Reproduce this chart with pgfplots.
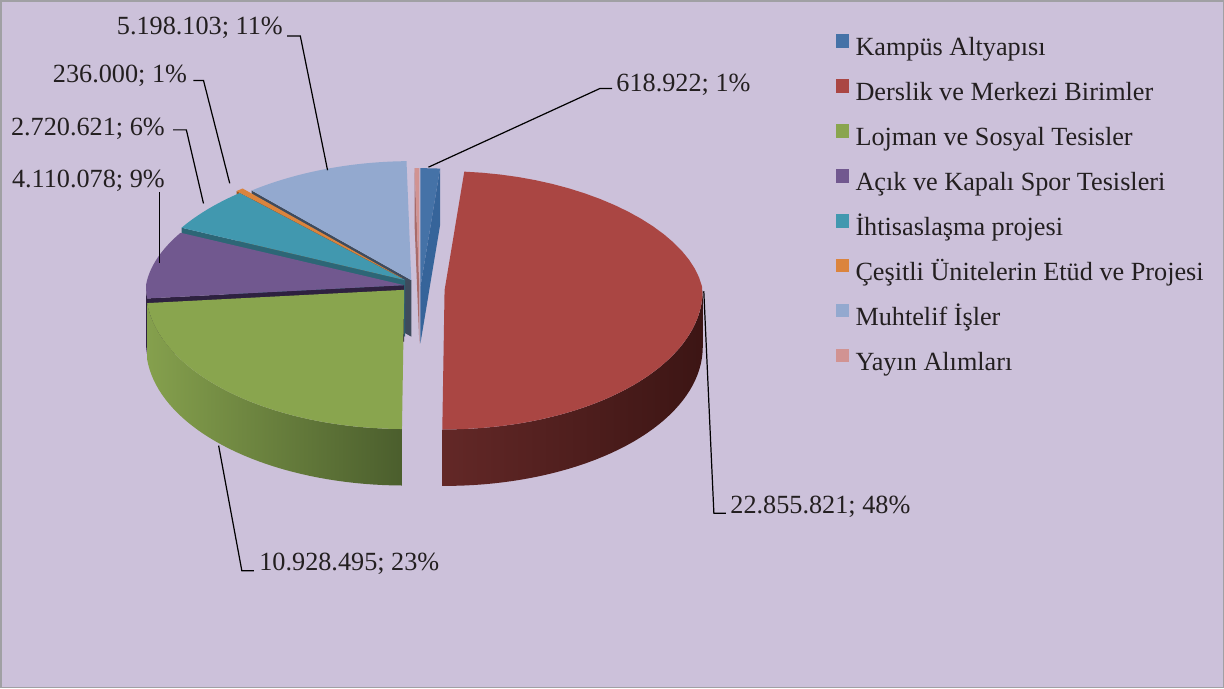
\documentclass[border=0pt]{standalone}
\usepackage{pgfplots}
\pgfplotsset{compat=1.18}
\usepackage{xfp}
\usepackage{fontspec}
\setmainfont{Liberation Serif}

\definecolor{bg}{HTML}{CCC1DA}
\definecolor{bordergray}{HTML}{A0A0A4}
\definecolor{kampus}{HTML}{4572A7}
\definecolor{kampusD}{HTML}{36649A}
\definecolor{derslik}{HTML}{AA4643}
\definecolor{dersL}{HTML}{632827}
\definecolor{dersR}{HTML}{3C1514}
\definecolor{lojman}{HTML}{89A54E}
\definecolor{lojL}{HTML}{85A04D}
\definecolor{lojR}{HTML}{4B5E2D}
\definecolor{acik}{HTML}{71588F}
\definecolor{acikD}{HTML}{2E2140}
\definecolor{iht}{HTML}{4198AF}
\definecolor{ihtD}{HTML}{2D6676}
\definecolor{ces}{HTML}{DB843D}
\definecolor{cesD}{HTML}{A3571C}
\definecolor{muh}{HTML}{93A9CF}
\definecolor{muhD}{HTML}{3E4B5D}
\definecolor{yayin}{HTML}{D19392}
\definecolor{yayinD}{HTML}{A86B6A}
\definecolor{txt}{HTML}{231F20}

% data
\def\vKampus{618922}
\def\vDerslik{22855821}
\def\vLojman{10928495}
\def\vAcik{4110078}
\def\vIht{2720621}
\def\vCes{236000}
\def\vMuh{5198103}
\def\vYayin{150000}

\edef\T{\fpeval{\vKampus+\vDerslik+\vLojman+\vAcik+\vIht+\vCes+\vMuh+\vYayin}}
\edef\cA{\fpeval{round(360*(\vKampus)/\T,3)}}
\edef\cB{\fpeval{round(360*(\vKampus+\vDerslik)/\T,3)}}
\edef\cC{\fpeval{round(360*(\vKampus+\vDerslik+\vLojman)/\T,3)}}
\edef\cD{\fpeval{round(360*(\vKampus+\vDerslik+\vLojman+\vAcik)/\T,3)}}
\edef\cE{\fpeval{round(360*(\vKampus+\vDerslik+\vLojman+\vAcik+\vIht)/\T,3)}}
\edef\cF{\fpeval{round(360*(\vKampus+\vDerslik+\vLojman+\vAcik+\vIht+\vCes)/\T,3)}}
\edef\cG{\fpeval{round(360*(\vKampus+\vDerslik+\vLojman+\vAcik+\vIht+\vCes+\vMuh)/\T,3)}}

% top face: #1 start, #2 end, #3 dx, #4 dy (screen down), #5 colour
\newcommand\topface[5]{%
  \edef\tmp{\noexpand\addplot[forget plot, fill=#5, draw=none, domain=0:1.1, samples=45]
  ({ifthenelse(x<1.0125, \fpeval{410+(#3)}+256*sin(#1+(#2-#1)*x)*(1-0.08*max(cos(#1+(#2-#1)*x),0)), \fpeval{410+(#3)})},
   {ifthenelse(x<1.0125, \fpeval{399-(#4)}+cos(#1+(#2-#1)*x)*ifthenelse(cos(#1+(#2-#1)*x)>0,118,138), \fpeval{399-(#4)})});}%
  \tmp}
% outer wall (front only): #1 a, #2 b, #3 dx, #4 dy, #5 left colour, #6 right colour
\newcommand\sideface[6]{%
  \edef\tmp{\noexpand\addplot[forget plot, left color=#5, right color=#6, draw=none, domain=0:2.025, samples=82]
  ({\fpeval{410+(#3)}+256*sin(#1+(#2-#1)*ifthenelse(x<1.0125,x,2.025-x))},
   {\fpeval{399-(#4)}-ifthenelse(x<1.0125,0,56)+138*cos(#1+(#2-#1)*ifthenelse(x<1.0125,x,2.025-x))});}%
  \tmp}
% radial wall: #1 angle, #2 dx, #3 dy, #4 colour
\newcommand\radwall[4]{%
  \edef\tmp{\noexpand\addplot[forget plot, fill=#4, draw=none] coordinates {
   (\fpeval{410+(#2)},\fpeval{399-(#3)})
   (\fpeval{410+(#2)+256*sind(#1)*(1-0.08*max(cosd(#1),0))},\fpeval{399-(#3)+cosd(#1)*(cosd(#1)>0?118:138)})
   (\fpeval{410+(#2)+256*sind(#1)*(1-0.08*max(cosd(#1),0))},\fpeval{399-(#3)-56+cosd(#1)*(cosd(#1)>0?118:138)})
   (\fpeval{410+(#2)},\fpeval{399-(#3)-56})};}%
  \tmp}

\pgfplotsset{sqleg/.style={legend image code/.code={\fill[##1] (0pt,1pt) rectangle (6.5pt,7.5pt);}}}

\begin{document}
\begin{tikzpicture}[font=\fontsize{13}{15}\selectfont, text=txt]
\fill[bg] (3pt,0.5pt) rectangle (609pt,341pt);
\draw[bordergray, line width=0.75pt] (3pt,0.5pt) rectangle (609pt,341pt);
\begin{axis}[
  width=612pt, height=342pt, scale only axis,
  xmin=0, xmax=1224, ymin=0, ymax=684,
  hide axis, clip=false,
  legend cell align=left,
  legend style={at={(axis cs:834,649)}, anchor=north west, draw=none, fill=none,
    inner sep=0pt, row sep=8.8pt, column sep=3pt,
    nodes={inner sep=0pt, text height=9pt, text depth=3pt, text=txt},
    font=\fontsize{13}{15}\selectfont},
]
% back slices first
\radwall{\cG}{11}{1}{yayinD}
\topface{\cG}{360}{11}{1}{yayin}
\radwall{\cA}{12}{1}{kampusD}
\topface{0}{\cA}{12}{1}{kampus}
\radwall{\cF}{3}{-6}{muhD}
\topface{\cF}{\cG}{3}{-6}{muh}
\radwall{\cE}{-6}{-8}{cesD}
\topface{\cE}{\cF}{-6}{-8}{ces}
\radwall{\cD}{-3}{-6}{ihtD}
\topface{\cD}{\cE}{-3}{-6}{iht}
\radwall{\cC}{-4}{-1}{acikD}
\sideface{\cC}{270}{-4}{-1}{acikD}{acikD}
\topface{\cC}{\cD}{-4}{-1}{acik}
\sideface{90}{\cB}{36}{4}{dersL}{dersR}
\topface{\cA}{\cB}{36}{4}{derslik}
\sideface{\cB}{\cC}{-4}{3.6}{lojL}{lojR}
\topface{\cB}{\cC}{-4}{3.6}{lojman}

% leader lines
\addplot[forget plot, black, line width=0.6pt] coordinates {(290,647) (303,647) (330,514)};
\addplot[forget plot, black, line width=0.6pt] coordinates {(197,603) (207,603) (233,501)};
\addplot[forget plot, black, line width=0.6pt] coordinates {(177,554) (190,554) (207,481)};
\addplot[forget plot, black, line width=0.6pt] coordinates {(163,492) (163,422)};
\addplot[forget plot, black, line width=0.6pt] coordinates {(612,595) (600,595) (430,517)};
\addplot[forget plot, black, line width=0.6pt] coordinates {(703,394) (713,174) (725,174)};
\addplot[forget plot, black, line width=0.6pt] coordinates {(222,241) (245,117) (257,117)};

\node[anchor=base east, inner sep=0pt] at (axis cs:286,649) {5.198.103; 11\%};
\node[anchor=base east, inner sep=0pt] at (axis cs:191,601) {236.000; 1\%};
\node[anchor=base east, inner sep=0pt] at (axis cs:169,548) {2.720.621; 6\%};
\node[anchor=base east, inner sep=0pt] at (axis cs:169,497) {4.110.078; 9\%};
\node[anchor=base west, inner sep=0pt] at (axis cs:616,592) {618.922; 1\%};
\node[anchor=base west, inner sep=0pt] at (axis cs:729,174) {22.855.821; 48\%};
\node[anchor=base west, inner sep=0pt] at (axis cs:262,117) {10.928.495; 23\%};

\addlegendimage{sqleg, fill=kampus, draw=none}
\addlegendentry{Kampüs Altyapısı}
\addlegendimage{sqleg, fill=derslik, draw=none}
\addlegendentry{Derslik ve Merkezi Birimler}
\addlegendimage{sqleg, fill=lojman, draw=none}
\addlegendentry{Lojman ve Sosyal Tesisler}
\addlegendimage{sqleg, fill=acik, draw=none}
\addlegendentry{Açık ve Kapalı Spor Tesisleri}
\addlegendimage{sqleg, fill=iht, draw=none}
\addlegendentry{İhtisaslaşma projesi}
\addlegendimage{sqleg, fill=ces, draw=none}
\addlegendentry{Çeşitli Ünitelerin Etüd ve Projesi}
\addlegendimage{sqleg, fill=muh, draw=none}
\addlegendentry{Muhtelif İşler}
\addlegendimage{sqleg, fill=yayin, draw=none}
\addlegendentry{Yayın Alımları}
\end{axis}
\end{tikzpicture}
\end{document}
